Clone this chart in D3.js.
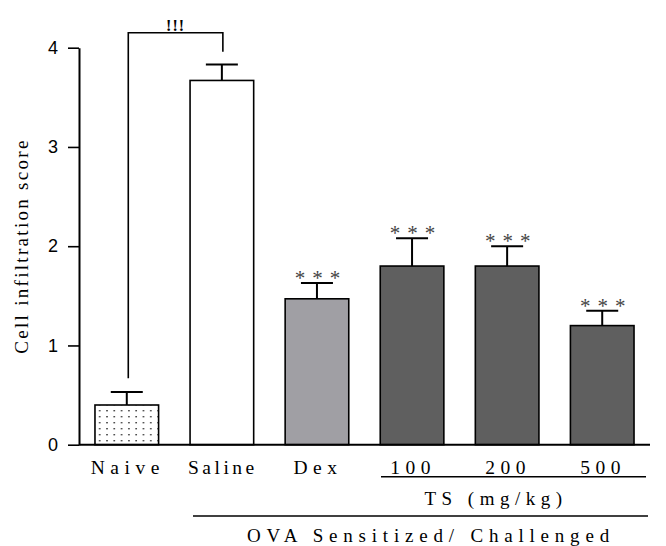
<!DOCTYPE html>
<html><head><meta charset="utf-8">
<script src="https://cdn.jsdelivr.net/npm/d3@7"></script>
<style>body{margin:0;background:#fff}svg{display:block}</style>
</head><body><svg id="c" width="666" height="546"></svg>
<script>
const categories = ["Naive","Saline","Dex","100","200","500"];
const means = [0.40, 3.67, 1.47, 1.80, 1.80, 1.20];
const errors = [0.13, 0.16, 0.16, 0.28, 0.20, 0.15];
const fills = ["dots","#ffffff","#a09fa4","#5f5f5f","#5f5f5f","#5f5f5f"];
const stars = ["","","***","***","***","***"];
const yTicks = [0,1,2,3,4];
const bracket = {from:"Naive", to:"Saline", top:4.15, leftEnd:0.67, rightEnd:3.96, label:"!!!"};

const svg = d3.select("#c");
const x = d3.scaleBand().domain(categories).range([79,650]).paddingInner(0.331).paddingOuter(0.168);
const y = d3.scaleLinear().domain([0,4]).range([444.7,47.7]);

const defs = svg.append("defs");
const pat = defs.append("pattern").attr("id","dots").attr("patternUnits","userSpaceOnUse")
  .attr("width",7.3).attr("height",6).attr("x",96).attr("y",0);
pat.append("rect").attr("width",7.3).attr("height",6).attr("fill","#fff");
pat.append("rect").attr("x",3).attr("y",2).attr("width",1.4).attr("height",1.4).attr("fill","#222");

const data = categories.map((c,i)=>({c, m:means[i], e:errors[i], f:fills[i], s:stars[i]}));

// bars
svg.append("g").selectAll("rect").data(data).join("rect")
  .attr("x",d=>x(d.c)).attr("width",x.bandwidth())
  .attr("y",d=>y(d.m)).attr("height",d=>y(0)-y(d.m))
  .attr("fill",d=>d.f==="dots"?"url(#dots)":d.f)
  .attr("stroke","#000").attr("stroke-width",1.6);

// error bars
const eb = svg.append("g").attr("stroke","#000").attr("stroke-width",2);
data.forEach(d=>{
  const cx = x(d.c)+x.bandwidth()/2;
  eb.append("line").attr("x1",cx).attr("x2",cx).attr("y1",y(d.m)).attr("y2",y(d.m+d.e));
  eb.append("line").attr("x1",cx-16).attr("x2",cx+16).attr("y1",y(d.m+d.e)).attr("y2",y(d.m+d.e));
});

// stars
svg.append("g").selectAll("text").data(data.filter(d=>d.s)).join("text")
  .attr("x",d=>x(d.c)+x.bandwidth()/2+4).attr("y",d=>y(d.m+d.e)+2)
  .attr("text-anchor","middle").attr("font-family","Liberation Serif").attr("font-size",21)
  .attr("letter-spacing",7).attr("fill","#444").text(d=>d.s);

// bracket
const bx1 = x(bracket.from)+x.bandwidth()/2+1.5, bx2 = x(bracket.to)+x.bandwidth()/2+1;
svg.append("path").attr("fill","none").attr("stroke","#000").attr("stroke-width",1.6)
  .attr("d",`M${bx1},${y(bracket.leftEnd)}V${y(bracket.top)}H${bx2}V${y(bracket.rightEnd)}`);
svg.append("text").attr("x",(bx1+bx2)/2).attr("y",y(bracket.top)-2).attr("text-anchor","middle")
  .attr("font-family","Liberation Serif").attr("font-weight","bold").attr("font-size",16)
  .attr("letter-spacing",1).text(bracket.label);

// y axis
const ya = svg.append("g").attr("transform","translate(79,0)")
  .call(d3.axisLeft(y).tickValues(yTicks).tickFormat(d3.format("d")).tickSize(11).tickSizeOuter(0).tickPadding(10));
ya.select(".domain").attr("stroke-width",2);
ya.selectAll(".tick line").attr("stroke-width",1.6);
ya.selectAll(".tick text").attr("font-family","Liberation Sans").attr("font-size",18).attr("fill","#000");

// x axis line
svg.append("line").attr("x1",79).attr("x2",650).attr("y1",y(0)).attr("y2",y(0)).attr("stroke","#000").attr("stroke-width",2);

// category labels
svg.append("g").selectAll("text").data(categories).join("text")
  .attr("x",d=>x(d)+x.bandwidth()/2+1).attr("y",474)
  .attr("text-anchor","middle").attr("font-family","Liberation Serif").attr("font-size",19.5)
  .attr("letter-spacing",d=>d==="Saline"?3.5:5.5).text(d=>d);

// group lines
svg.append("line").attr("x1",381).attr("x2",646).attr("y1",476.7).attr("y2",476.7).attr("stroke","#000").attr("stroke-width",1.5);
svg.append("text").attr("x",496).attr("y",505).attr("text-anchor","middle").attr("font-family","Liberation Serif")
  .attr("font-size",19).attr("letter-spacing",5.5).text("TS (mg/kg)");
svg.append("line").attr("x1",193).attr("x2",648).attr("y1",516).attr("y2",516).attr("stroke","#000").attr("stroke-width",1.5);
svg.append("text").attr("x",431).attr("y",542).attr("text-anchor","middle").attr("font-family","Liberation Serif")
  .attr("font-size",19).attr("letter-spacing",5.8).text("OVA Sensitized/ Challenged");

// y label
svg.append("text").attr("transform","translate(28,246) rotate(-90)").attr("text-anchor","middle")
  .attr("font-family","Liberation Serif").attr("font-size",19).attr("letter-spacing",2.3).text("Cell infiltration score");
</script></body></html>
